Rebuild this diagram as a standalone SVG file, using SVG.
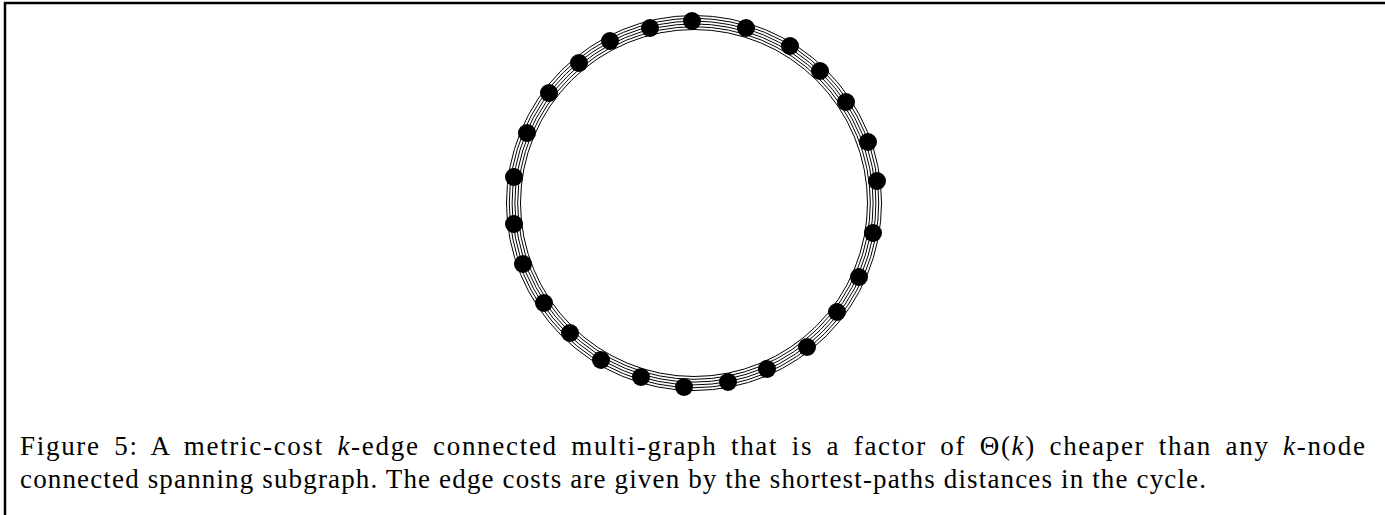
<svg xmlns="http://www.w3.org/2000/svg" width="1385" height="515" viewBox="0 0 1385 515">
<style>
.ring{fill:none;stroke:#000;stroke-width:1}
.dot{fill:#000}
.cap{font-family:'Liberation Serif',serif;font-size:27px;fill:#000}
.it{font-style:italic}
</style>
<rect width="1385" height="515" fill="#fff"/>
<path d="M5,515 V3 H1385" fill="none" stroke="#000" stroke-width="2.5"/>
<g id="connectors">
<circle class="ring" cx="694" cy="203" r="173.5"/>
<circle class="ring" cx="694" cy="203" r="176.3"/>
<circle class="ring" cx="694" cy="203" r="179.1"/>
<circle class="ring" cx="694" cy="203" r="181.9"/>
<circle class="ring" cx="694" cy="203" r="184.7"/>
<circle class="ring" cx="694" cy="203" r="187.5"/>
</g>
<g id="n1"><circle class="dot" cx="692" cy="21" r="9"/></g>
<g id="n2"><circle class="dot" cx="746" cy="28" r="9"/></g>
<g id="n3"><circle class="dot" cx="790" cy="46" r="9"/></g>
<g id="n4"><circle class="dot" cx="820" cy="71" r="9"/></g>
<g id="n5"><circle class="dot" cx="846" cy="102" r="9"/></g>
<g id="n6"><circle class="dot" cx="868" cy="142" r="9"/></g>
<g id="n7"><circle class="dot" cx="877" cy="181" r="9"/></g>
<g id="n8"><circle class="dot" cx="873" cy="233" r="9"/></g>
<g id="n9"><circle class="dot" cx="859" cy="277" r="9"/></g>
<g id="n10"><circle class="dot" cx="837" cy="312" r="9"/></g>
<g id="n11"><circle class="dot" cx="807" cy="347" r="9"/></g>
<g id="n12"><circle class="dot" cx="767" cy="369" r="9"/></g>
<g id="n13"><circle class="dot" cx="728" cy="382" r="9"/></g>
<g id="n14"><circle class="dot" cx="684" cy="387" r="9"/></g>
<g id="n15"><circle class="dot" cx="641" cy="377" r="9"/></g>
<g id="n16"><circle class="dot" cx="601" cy="360" r="9"/></g>
<g id="n17"><circle class="dot" cx="570" cy="333" r="9"/></g>
<g id="n18"><circle class="dot" cx="544" cy="303" r="9"/></g>
<g id="n19"><circle class="dot" cx="523" cy="264" r="9"/></g>
<g id="n20"><circle class="dot" cx="514" cy="224" r="9"/></g>
<g id="n21"><circle class="dot" cx="514" cy="177" r="9"/></g>
<g id="n22"><circle class="dot" cx="527" cy="133" r="9"/></g>
<g id="n23"><circle class="dot" cx="549" cy="93" r="9"/></g>
<g id="n24"><circle class="dot" cx="579" cy="63" r="9"/></g>
<g id="n25"><circle class="dot" cx="610" cy="41" r="9"/></g>
<g id="n26"><circle class="dot" cx="650" cy="28" r="9"/></g>
<g id="caption">
<text class="cap" x="20" y="455" word-spacing="5" textLength="1345" lengthAdjust="spacing">Figure 5: A metric-cost <tspan class="it">k</tspan>-edge connected multi-graph that is a factor of Θ(<tspan class="it">k</tspan>) cheaper than any <tspan class="it">k</tspan>-node</text>
<text class="cap" x="20" y="488" textLength="1186" lengthAdjust="spacing">connected spanning subgraph. The edge costs are given by the shortest-paths distances in the cycle.</text>
</g>
</svg>
